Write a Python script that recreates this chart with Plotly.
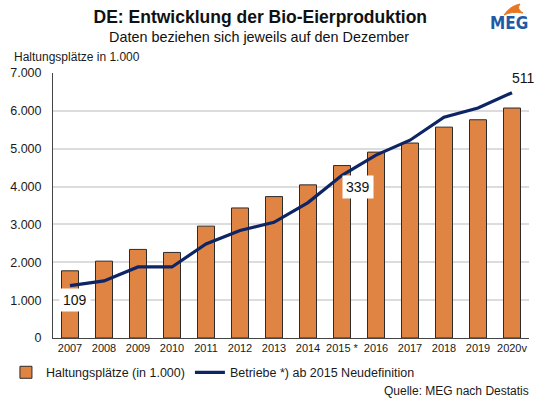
import plotly.graph_objects as go

years = ["2007", "2008", "2009", "2010", "2011", "2012", "2013", "2014",
         "2015 *", "2016", "2017", "2018", "2019", "2020v"]
haltungsplaetze = [1775, 2030, 2340, 2260, 2955, 3435, 3735, 4045,
                   4555, 4910, 5150, 5570, 5765, 6075]
betriebe = [109, 119, 148, 148, 196, 224, 241, 282,
            339, 381, 412, 460, 479, 511]
y_ticks = [0, 1000, 2000, 3000, 4000, 5000, 6000, 7000]

FONT = "Liberation Sans, Arial, sans-serif"
ORANGE = "#E08443"
NAVY = "#0E2565"

fig = go.Figure()
fig.add_trace(go.Bar(
    x=years, y=haltungsplaetze, name="Haltungsplätze (in 1.000)",
    marker=dict(color=ORANGE, line=dict(color="#2b2b2b", width=1)),
    yaxis="y",
))
fig.add_trace(go.Scatter(
    x=years, y=betriebe, name="Betriebe *) ab 2015 Neudefinition",
    mode="lines", line=dict(color=NAVY, width=3.2),
    yaxis="y2",
))

fig.update_layout(
    width=540, height=399,
    margin=dict(l=53, r=11, t=73, b=61, autoexpand=False),
    paper_bgcolor="white", plot_bgcolor="white",
    font=dict(family=FONT, size=12, color="#1a1a1a"),
    separators=",.",
    bargap=0.5,
    showlegend=True,
    legend=dict(orientation="h", xref="container", yref="container",
                x=0.011, y=0.066, xanchor="left", yanchor="middle",
                font=dict(size=12.5, family=FONT), itemwidth=30,
                tracegroupgap=0, traceorder="normal"),
    title=dict(text="<b>DE: Entwicklung der Bio-Eierproduktion</b>",
               x=0.482, xanchor="center", xref="container",
               y=0.957, yanchor="middle", yref="container",
               font=dict(size=17.5, family=FONT, color="#111")),
    xaxis=dict(type="category", showgrid=False, showline=True,
               linecolor="#444", linewidth=1, ticks="",
               tickfont=dict(size=11, family=FONT), range=[-0.5, 13.5]),
    yaxis=dict(range=[0, 7000], tickvals=y_ticks, tickformat=",d",
               showgrid=True, gridcolor="#DCDCDC", gridwidth=1.5,
               showline=True, linecolor="#444", linewidth=1,
               ticks="", ticklabelstandoff=8,
               tickfont=dict(size=12.5, family=FONT), zeroline=False),
    yaxis2=dict(range=[0, 552], overlaying="y", side="right",
                showgrid=False, showticklabels=False, showline=False,
                zeroline=False),
)

# subtitle, axis title, source
fig.add_annotation(text="Daten beziehen sich jeweils auf den Dezember",
                   xref="paper", yref="paper", x=(259 - 53) / 476,
                   y=(338 - 37) / 265, xanchor="center", yanchor="middle",
                   showarrow=False, font=dict(size=14.4, family=FONT, color="#111"))
fig.add_annotation(text="Haltungsplätze in 1.000",
                   xref="paper", yref="paper", x=(12 - 53) / 476,
                   y=(338 - 57) / 265, xanchor="left", yanchor="middle",
                   showarrow=False, font=dict(size=12, family=FONT))
fig.add_annotation(text="Quelle: MEG nach Destatis",
                   xref="paper", yref="paper", x=(531 - 53) / 476,
                   y=(338 - 391) / 265, xanchor="right", yanchor="middle",
                   showarrow=False, font=dict(size=12, family=FONT))

# logo
fig.add_annotation(text="<b>MEG</b>", xref="paper", yref="paper",
                   x=(509 - 53) / 476, y=(338 - 23) / 265,
                   xanchor="center", yanchor="middle", showarrow=False,
                   font=dict(size=17, family="DejaVu Sans Condensed, sans-serif", color="#1E5BA6"))
fig.add_shape(type="path", xref="paper", yref="paper",
              path="M %f %f Q %f %f %f %f Q %f %f %f %f Q %f %f %f %f Z" % (
                  (504 - 53) / 476, (338 - 15) / 265,
                  (510 - 53) / 476, (338 - 6) / 265, (520 - 53) / 476, (338 - 4) / 265,
                  (516 - 53) / 476, (338 - 9) / 265, (523 - 53) / 476, (338 - 13) / 265,
                  (512 - 53) / 476, (338 - 11) / 265, (504 - 53) / 476, (338 - 15) / 265),
              fillcolor="#E87722", line=dict(color="#E87722", width=1))

# data labels for Betriebe (x given as category index)
label_specs = [(0, 5, -14), (8, 16, -12), (13, 11, 15)]
for idx, xs, ys in label_specs:
    fig.add_annotation(text=str(betriebe[idx]), x=idx, y=betriebe[idx],
                       xref="x", yref="y2", xshift=xs, yshift=ys,
                       showarrow=False, bgcolor="white", borderpad=3,
                       font=dict(size=14, family=FONT, color="#111"))

fig.write_html("out.html", config={"displayModeBar": False},
               post_script="document.body.style.margin='0';document.body.style.overflow='hidden';")
